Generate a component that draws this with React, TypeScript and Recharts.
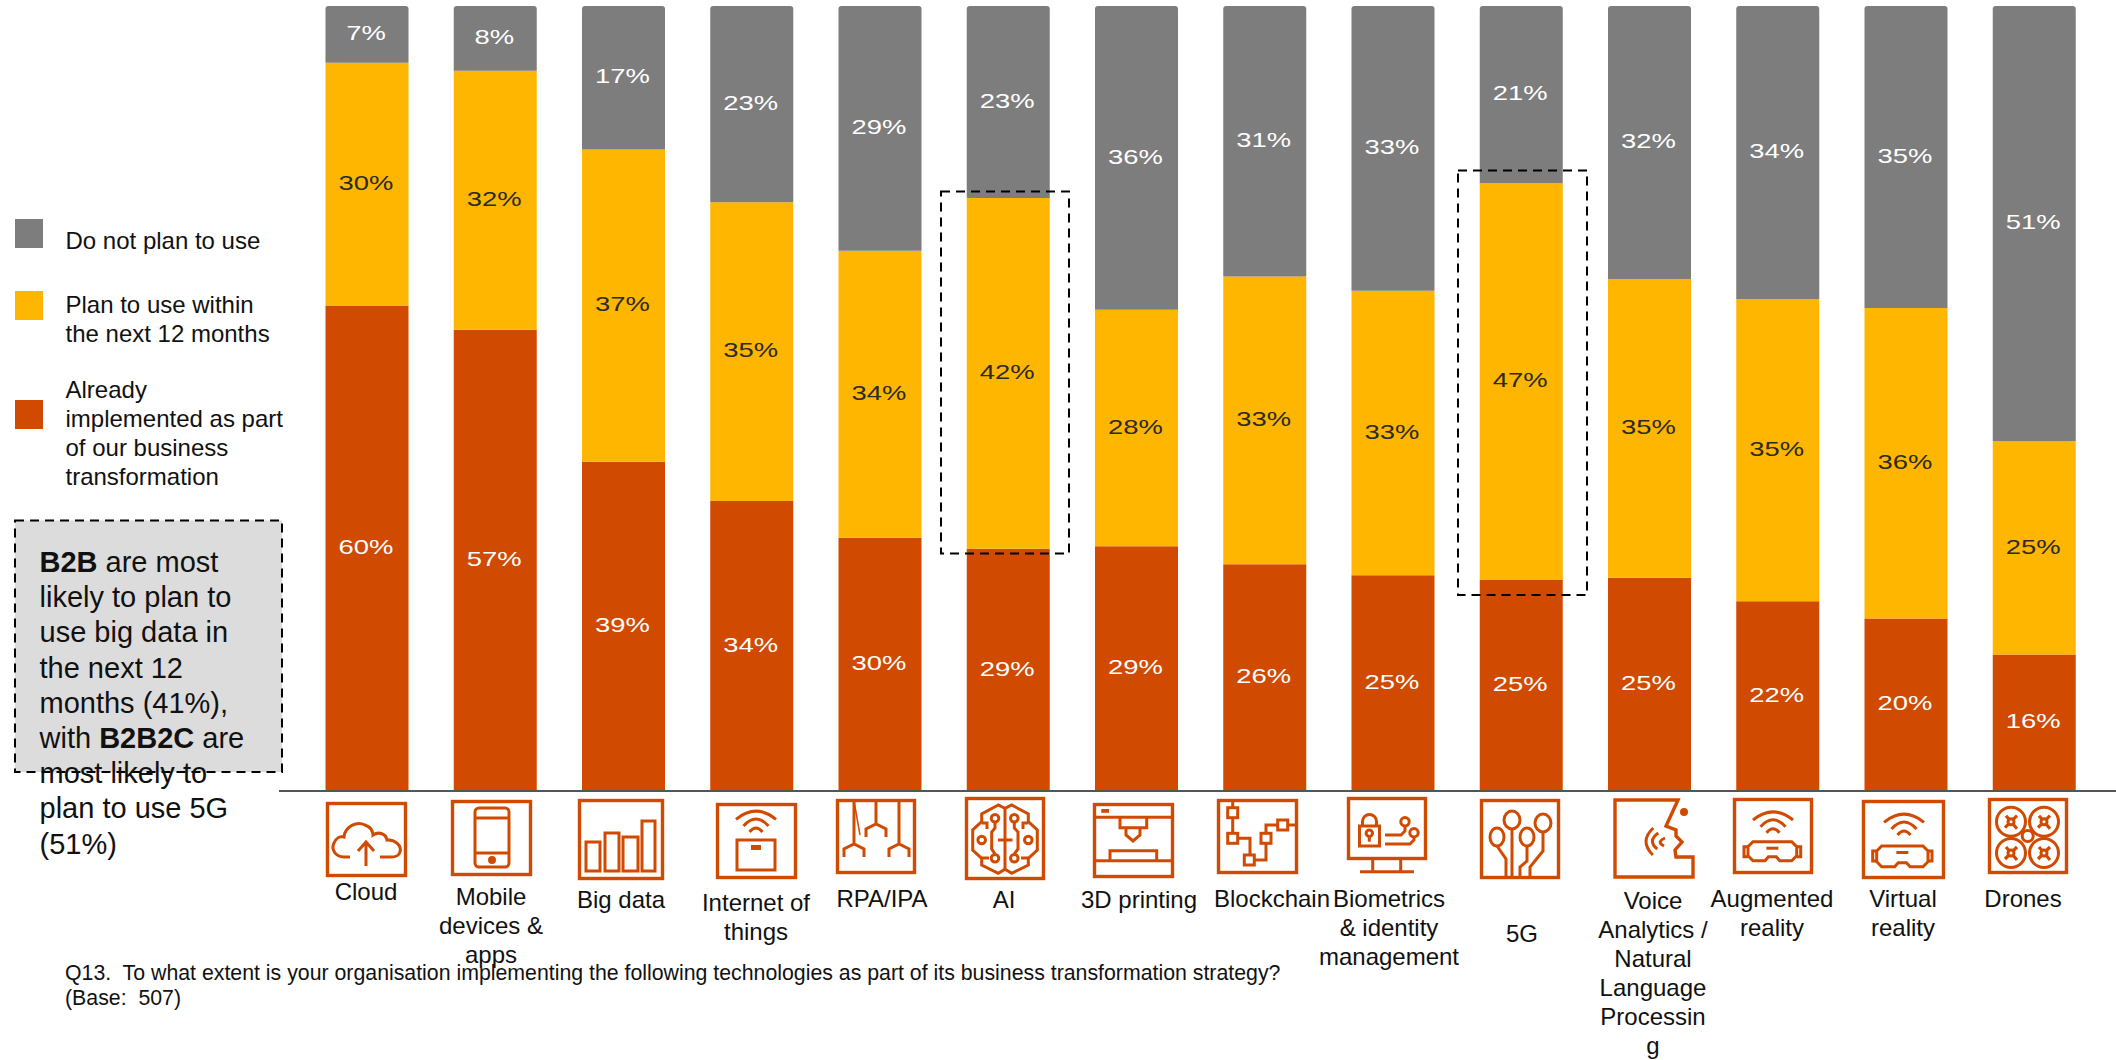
import React from "react";
import { BarChart, Bar, XAxis, YAxis, LabelList } from "recharts";

const categories = ["Cloud","Mobile devices & apps","Big data","Internet of things","RPA/IPA","AI","3D printing","Blockchain","Biometrics & identity management","5G","Voice Analytics / Natural Language Processing","Augmented reality","Virtual reality","Drones"];
const implemented = [60,57,39,34,30,29,29,26,25,25,25,22,20,16];
const planToUse = [30,32,37,35,34,42,28,33,33,47,35,35,36,25];
const doNotPlan = [7,8,17,23,29,23,36,31,33,21,32,34,35,51];

const seriesNames = {
  doNotPlan: ["Do not plan to use"],
  planToUse: ["Plan to use within", "the next 12 months"],
  implemented: ["Already", "implemented as part", "of our business", "transformation"],
};

const ORANGE = "#D04A02";
const YELLOW = "#FFB600";
const GREY = "#7D7D7D";
const FONT = "'Liberation Sans', Arial, sans-serif";

const data = categories.map((name, i) => ({ name, implemented: implemented[i], planToUse: planToUse[i], doNotPlan: doNotPlan[i] }));

// wrapped tick text exactly as it breaks in the picture: lines, centre x, baselines
const tickLayout: { lines: string[]; cx: number; ys: number[]; box: number[] }[] = [
  { lines: ["Cloud"], cx: 366, ys: [900], box: [326, 802, 81, 75] },
  { lines: ["Mobile", "devices &", "apps"], cx: 491, ys: [905, 934, 963], box: [451, 800, 81, 76] },
  { lines: ["Big data"], cx: 621, ys: [908], box: [578, 799, 86, 81] },
  { lines: ["Internet of", "things"], cx: 756, ys: [911, 940], box: [716, 803, 81, 76] },
  { lines: ["RPA/IPA"], cx: 882, ys: [907], box: [836, 799, 80, 75] },
  { lines: ["AI"], cx: 1004, ys: [908], box: [965, 797, 80, 83] },
  { lines: ["3D printing"], cx: 1139, ys: [908], box: [1093, 803, 81, 75] },
  { lines: ["Blockchain"], cx: 1272, ys: [907], box: [1217, 799, 81, 75] },
  { lines: ["Biometrics", "& identity", "management"], cx: 1389, ys: [907, 936, 965], box: [1347, 797, 80, 76] },
  { lines: ["5G"], cx: 1522, ys: [942], box: [1480, 799, 80, 80] },
  { lines: ["Voice", "Analytics /", "Natural", "Language", "Processin", "g"], cx: 1653, ys: [909, 938, 967, 996, 1025, 1054], box: [1614, 799, 80, 79] },
  { lines: ["Augmented", "reality"], cx: 1772, ys: [907, 936], box: [1733, 798, 80, 76] },
  { lines: ["Virtual", "reality"], cx: 1903, ys: [907, 936], box: [1862, 800, 83, 79] },
  { lines: ["Drones"], cx: 2023, ys: [907], box: [1988, 798, 80, 76] },
];

const Wifi = ({ cx, y, s = 1 }: { cx: number; y: number; s?: number }) => (
  <g transform={`translate(${cx},${y}) scale(${s})`}>
    <path d="M-20 8.3 Q0 -8 20 8.3" />
    <path d="M-12.5 15 Q0 1 12.5 15" />
    <path d="M-6.5 21 Q0 13 6.5 21" />
  </g>
);
const Goggles = ({ x, y, w, h }: { x: number; y: number; w: number; h: number }) => (
  <g>
    <path d={`M${x + 5} ${y} H${x + w - 5} L${x + w} ${y + 5} V${y + h - 5} L${x + w - 5} ${y + h} H${x + w * 0.65} L${x + w * 0.58} ${y + h - 4} H${x + w * 0.42} L${x + w * 0.35} ${y + h} H${x + 5} L${x} ${y + h - 5} V${y + 5} Z`} />
    <path d={`M${x} ${y + 5} H${x - 4} V${y + 15} H${x} M${x + w} ${y + 5} H${x + w + 4} V${y + 15} H${x + w}`} />
    <rect x={x + w / 2 - 6} y={y + 5} width={12} height={3} fill={ORANGE} stroke="none" />
  </g>
);
const Claw = ({ x, stem, bottom }: { x: number; stem: number; bottom: number }) => (
  <path d={`M${x} 0 V${stem} M${x - 10} ${bottom} V${stem + 5} L${x} ${stem} L${x + 10} ${stem + 5} V${bottom}`} />
);
const Node = ({ x, y }: { x: number; y: number }) => <rect x={x - 5} y={y - 5} width={10} height={10} fill="#fff" />;
const Rotor = ({ x, y, d }: { x: number; y: number; d: number }) => (
  <g>
    <circle cx={x} cy={y} r={14.5} />
    <path d={`M${x - 5 * d} ${y - 6} L${x + 6 * d} ${y + 7} M${x + 6 * d} ${y - 6} L${x - 6 * d} ${y + 6}`} strokeWidth={3.2} />
    <circle cx={x} cy={y} r={3} fill="#fff" />
  </g>
);
const Dot = ({ x, y, r = 3.8 }: { x: number; y: number; r?: number }) => <circle cx={x} cy={y} r={r} fill="#fff" />;

const icons: (() => React.ReactNode)[] = [
  () => (
    <g>
      <path d="M24 55 H18 C9 55 5 47 8 41 C10 36 14 34 18 35 C19 24 31 19 39 23 C44 25 47 29 47 33 C53 29 60 32 61 38 C69 37 76 44 74 50 C73 54 69 55 65 55 H54" />
      <path d="M40 64 V40 M32 49 L40 40 L48 49" />
    </g>
  ),
  () => (
    <g>
      <rect x={24} y={8} width={34} height={59} rx={4} />
      <path d="M24 18 H58 M24 53 H58" />
      <circle cx={41} cy={60} r={2.5} fill={ORANGE} />
    </g>
  ),
  () => (
    <g>
      <rect x={8} y={43} width={14} height={29} />
      <rect x={27} y={34} width={14} height={38} />
      <rect x={45} y={38} width={15} height={34} />
      <rect x={64} y={22} width={13} height={50} />
    </g>
  ),
  () => (
    <g>
      <Wifi cx={40} y={8} />
      <rect x={21} y={37} width={38} height={30} />
      <rect x={35} y={42} width={10} height={5} fill={ORANGE} stroke="none" />
    </g>
  ),
  () => (
    <g>
      <Claw x={18} stem={45} bottom={58} />
      <Claw x={40} stem={25} bottom={38} />
      <Claw x={63} stem={45} bottom={58} />
      <path d="M18 2 L24 36" strokeWidth={1.5} />
    </g>
  ),
  () => (
    <g>
      <path d="M33.3 8 L16.7 17 V24.7 L7.7 33 V53 L16.7 61.3 V68 L33.3 76.3 L40 72.3 L46.7 76.3 L63.3 68 V61.3 L72.3 53 V33 L63.3 24.7 V17 L46.7 8 L40 11.3 Z" />
      <path d="M40 11.3 V72.3 M33 43 H47.5" />
      <path d="M30 25 V31 L26.7 35 V52 L30 57 M49.3 25 V31 L53 35 V52 L49.3 57" />
      <path d="M16.7 26 H22 V32 M63.3 26 H58 V32 M17 61 H24 M63 61 H56" />
      <Dot x={30} y={21.3} />
      <Dot x={49.3} y={21.3} />
      <Dot x={16.7} y={43} />
      <Dot x={63.3} y={43} />
      <Dot x={30} y={61.3} />
      <Dot x={49.3} y={61.3} />
    </g>
  ),
  () => (
    <g>
      <path d="M1 14.3 H79 M1 57.7 H79" />
      <rect x={8.3} y={6} width={7.7} height={3.8} fill={ORANGE} stroke="none" />
      <path d="M27 15 V24.7 H53.7 V15 M33 25 V32 L40 38 L47 32 V25" />
      <path d="M17 57.7 V47.7 H63.7 V57.7" />
    </g>
  ),
  () => (
    <g>
      <path d="M15.7 1 V39.3 H33 V61 H49 V26 H79" />
      <Node x={15.7} y={13.7} />
      <Node x={15.7} y={39.3} />
      <Node x={32.3} y={61} />
      <Node x={49} y={39.3} />
      <Node x={65.7} y={26} />
    </g>
  ),
  () => (
    <g>
      <path d="M25.7 62 V74.7 M53.7 62 V74.7 M13 74.7 H67" />
      <rect x={12.5} y={29} width={20} height={20} />
      <path d="M15.5 29 V24.5 A7 7 0 0 1 29.5 24.5 V29" />
      <circle cx={22.3} cy={36.3} r={3.2} />
      <path d="M22.3 39.5 V44.7" />
      <path d="M38 38 H54 L58 34 V28 M38 47 H63 L67 43 V39" />
      <circle cx={58} cy={24.7} r={4.2} fill="#fff" />
      <circle cx={67} cy={35.7} r={4.2} fill="#fff" />
    </g>
  ),
  () => (
    <g>
      <ellipse cx={32} cy={21} rx={8} ry={9} />
      <ellipse cx={63} cy={24} rx={8} ry={9} />
      <ellipse cx={17} cy={38} rx={7} ry={9} />
      <ellipse cx={47} cy={38} rx={7} ry={9} />
      <path d="M17 47 L26 60 V79 M32 30 V79 M47 47 V62 L40 68 V79 M63 33 V52 L50 68 V79" />
    </g>
  ),
  () => (
    <g>
      <circle cx={70} cy={13} r={4} fill={ORANGE} stroke="none" />
      <path d="M39.3 29 Q25 42 38.8 56 M44.3 34 Q33 42 43.3 50 M51 39 Q42 43 50 47" />
    </g>
  ),
  () => (
    <g>
      <Wifi cx={40} y={13.7} />
      <Goggles x={15} y={43.7} w={48.7} h={19} />
    </g>
  ),
  () => (
    <g>
      <Wifi cx={42} y={14} />
      <Goggles x={14.7} y={46} w={51.3} h={20.7} />
    </g>
  ),
  () => (
    <g>
      <Rotor x={23} y={23.7} d={1} />
      <Rotor x={56} y={23.7} d={1} />
      <Rotor x={23} y={55} d={1} />
      <Rotor x={56} y={55} d={1} />
      <circle cx={39.7} cy={38} r={5.5} fill="#fff" />
    </g>
  ),
];

const CategoryTick = (props: any) => {
  const i = props.index as number;
  const t = tickLayout[i];
  const [bx, by, bw, bh] = t.box;
  const isVoice = i === 10;
  const isBio = i === 8;
  return (
    <g>
      <g transform={`translate(${bx},${by})`} fill="none" stroke={ORANGE} strokeWidth={3}>
        {isVoice ? (
          <path strokeWidth={3.4} d="M64 1 L52 27 L62 31 V37 L68 43 L61 51 L62 58 H79 V78 H1 V1 Z" />
        ) : isBio ? (
          <rect x={1.5} y={1.5} width={bw - 3} height={60} strokeWidth={3.4} />
        ) : (
          <rect x={1.5} y={1.5} width={bw - 3} height={bh - 3} strokeWidth={3.4} />
        )}
        {icons[i]()}
      </g>
      <text textAnchor="middle" fontFamily={FONT} fontSize={24} fill="#111">
        {t.lines.map((l, k) => (
          <tspan key={k} x={t.cx} y={t.ys[k]}>{l}</tspan>
        ))}
      </text>
    </g>
  );
};

const makeLabel = (fill: string) => (props: any) => {
  const { x, y, width, height, value } = props;
  const cx = x + width / 2 - 1;
  const cy = y + height / 2 - 1.4;
  return (
    <text transform={`translate(${cx},${cy}) scale(1.37,1)`} textAnchor="middle" dominantBaseline="central" fontFamily={FONT} fontSize={20} fill={fill}>
      {value}%
    </text>
  );
};

const B = ({ children }: { children: React.ReactNode }) => <tspan fontWeight="bold">{children}</tspan>;

export default function App() {
  const legendItems = [
    { color: GREY, y: 219, lines: seriesNames.doNotPlan, ys: [249] },
    { color: YELLOW, y: 291, lines: seriesNames.planToUse, ys: [313, 342] },
    { color: ORANGE, y: 400, lines: seriesNames.implemented, ys: [398, 427, 456, 485] },
  ];
  const calloutX = 39.5;
  return (
    <div style={{ position: "absolute", left: 0, top: 0, width: 2116, height: 1060, overflow: "hidden", background: "#fff" }}>
      <BarChart
        width={2116}
        height={1060}
        data={data}
        stackOffset="expand"
        barSize={83}
        margin={{ top: 6, right: 0, bottom: 0, left: 279 }}
        style={{ position: "absolute", left: 0, top: 0 }}
      >
        <YAxis hide domain={[0, 1]} />
        <XAxis
          dataKey="name"
          height={269}
          interval={0}
          tickLine={false}
          padding={{ left: 23.5, right: 18 }}
          axisLine={{ stroke: "#555", strokeWidth: 2 }}
          tick={<CategoryTick />}
        />
        <Bar dataKey="implemented" stackId="a" fill={ORANGE} isAnimationActive={false}>
          <LabelList dataKey="implemented" content={makeLabel("#fff")} />
        </Bar>
        <Bar dataKey="planToUse" stackId="a" fill={YELLOW} isAnimationActive={false}>
          <LabelList dataKey="planToUse" content={makeLabel("#2a2a2a")} />
        </Bar>
        <Bar dataKey="doNotPlan" stackId="a" fill={GREY} radius={[3, 3, 0, 0]} isAnimationActive={false}>
          <LabelList dataKey="doNotPlan" content={makeLabel("#fff")} />
        </Bar>
      </BarChart>
      <svg width={2116} height={1060} style={{ position: "absolute", left: 0, top: 0, pointerEvents: "none" }} fontFamily={FONT}>
        {legendItems.map((it, i) => (
          <g key={i}>
            <rect x={15} y={it.y} width={28} height={29} fill={it.color} />
            <text fontSize={24} fill="#111">
              {it.lines.map((l, k) => (
                <tspan key={k} x={65.5} y={it.ys[k]}>{l}</tspan>
              ))}
            </text>
          </g>
        ))}
        <rect x={15} y={520.5} width={267} height={251.5} fill="#DCDCDC" stroke="#000" strokeWidth={2} strokeDasharray="9 6" />
        <text fontSize={29} fill="#111">
          <tspan x={calloutX} y={572}><B>B2B</B> are most</tspan>
          <tspan x={calloutX} y={607}>likely to plan to</tspan>
          <tspan x={calloutX} y={642}>use big data in</tspan>
          <tspan x={calloutX} y={677.5}>the next 12</tspan>
          <tspan x={calloutX} y={712.5}>months (41%),</tspan>
          <tspan x={calloutX} y={748}>with <B>B2B2C</B> are</tspan>
          <tspan x={calloutX} y={783}>most likely to</tspan>
          <tspan x={calloutX} y={818}>plan to use 5G</tspan>
          <tspan x={calloutX} y={853.5}>(51%)</tspan>
        </text>
        <rect x={941} y={191.5} width={128} height={362} fill="none" stroke="#000" strokeWidth={2} strokeDasharray="9 6" />
        <rect x={1458} y={170.5} width={129} height={424.5} fill="none" stroke="#000" strokeWidth={2} strokeDasharray="9 6" />
        <text fontSize={21.3} fill="#111" xmlSpace="preserve" style={{ whiteSpace: "pre" }}>
          <tspan x={65} y={980}>Q13.  To what extent is your organisation implementing the following technologies as part of its business transformation strategy?</tspan>
          <tspan x={65} y={1005}>(Base:  507)</tspan>
        </text>
      </svg>
    </div>
  );
}
